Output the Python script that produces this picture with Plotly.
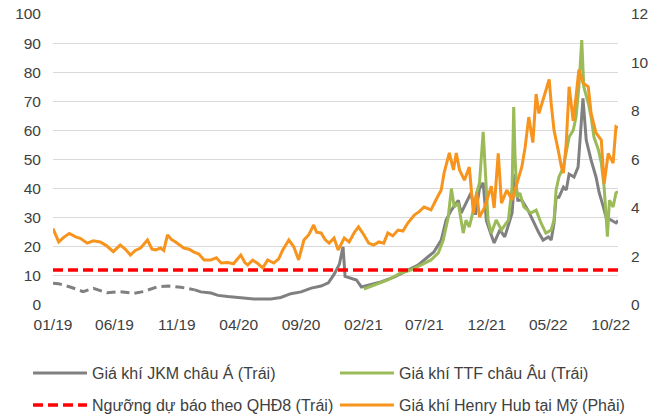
import plotly.graph_objects as go

# ---------------- DATA ----------------
hh_dates = ["2019-01-01","2019-01-08","2019-01-15","2019-01-28","2019-02-10","2019-02-27","2019-03-09","2019-03-26",
 "2019-04-10","2019-04-27","2019-05-12","2019-05-29","2019-06-15","2019-06-28","2019-07-10","2019-07-22","2019-08-04",
 "2019-08-21","2019-09-01","2019-09-10","2019-09-22","2019-09-30","2019-10-09","2019-10-19","2019-10-29","2019-11-18",
 "2019-12-01","2019-12-12","2019-12-25","2020-01-07","2020-01-24","2020-02-06","2020-02-18","2020-03-05","2020-03-19",
 "2020-04-06","2020-04-16","2020-04-23","2020-05-05","2020-05-17","2020-05-30","2020-06-11","2020-06-26","2020-07-08",
 "2020-07-18","2020-08-02","2020-08-14","2020-08-26","2020-09-08","2020-09-20","2020-10-02","2020-10-09","2020-10-20",
 "2020-10-30","2020-11-09","2020-11-21","2020-12-01","2020-12-16","2020-12-28","2021-01-10","2021-01-20","2021-02-02",
 "2021-02-14","2021-02-26","2021-03-11","2021-03-23","2021-04-02","2021-04-14","2021-04-27","2021-05-09","2021-05-21",
 "2021-06-06","2021-06-18","2021-06-30","2021-07-17","2021-07-29","2021-08-11","2021-08-18","2021-08-31","2021-09-10",
 "2021-09-17","2021-09-25","2021-10-07","2021-10-19","2021-10-29","2021-11-06","2021-11-13","2021-11-25","2021-12-12",
 "2021-12-19","2021-12-29","2022-01-06","2022-01-19","2022-02-01","2022-02-13","2022-02-25","2022-03-05","2022-03-14",
 "2022-03-24","2022-04-01","2022-04-08","2022-04-18","2022-04-25","2022-05-03","2022-05-08","2022-05-15","2022-05-25",
 "2022-06-02","2022-06-07","2022-06-14","2022-06-21","2022-07-01","2022-07-08","2022-07-15","2022-07-25","2022-08-07",
 "2022-08-14","2022-08-26","2022-09-08","2022-09-15","2022-09-25","2022-10-07","2022-10-14","2022-10-19"]
hh_values = [3.15,2.9,2.6,2.8,2.95,2.8,2.75,2.55,
 2.65,2.6,2.45,2.2,2.47,2.3,2.06,2.25,2.35,
 2.68,2.3,2.27,2.35,2.25,2.89,2.7,2.6,2.35,
 2.3,2.19,2.1,1.86,1.86,1.95,1.73,1.75,1.7,
 2.06,1.75,1.65,1.85,1.72,1.53,1.86,1.73,1.9,
 2.27,2.68,2.4,1.86,2.68,2.9,3.3,3.0,2.97,
 2.7,2.55,2.76,2.27,2.76,2.6,3.0,3.22,2.9,
 2.55,2.47,2.6,2.55,2.97,2.85,3.09,3.05,3.38,
 3.71,3.85,4.04,3.92,4.33,4.74,5.44,6.27,5.57,
 6.27,5.57,5.15,5.69,3.79,4.62,3.63,4.0,4.9,
 4.0,6.25,4.2,4.74,4.33,5.0,5.7,6.5,7.75,
 6.7,8.7,7.9,8.45,8.87,9.3,8.3,7.2,6.4,
 5.7,5.44,6.7,9.0,7.6,8.6,9.7,9.15,9.0,
 7.9,7.1,6.8,5.0,6.25,5.85,7.35,7.3]

jkm_dates = ["2019-01-01","2019-01-15","2019-02-14","2019-03-16","2019-04-10","2019-04-27","2019-05-14","2019-06-15",
 "2019-07-17","2019-08-11","2019-09-15","2019-10-12","2019-11-11","2019-12-15","2019-12-30","2020-01-24","2020-02-10",
 "2020-03-05","2020-04-06","2020-05-08","2020-06-19","2020-07-13","2020-08-07","2020-09-01","2020-09-26","2020-10-20",
 "2020-11-07","2020-11-21","2020-12-04","2020-12-13","2020-12-18","2020-12-28","2021-01-15","2021-01-27","2021-02-14",
 "2021-03-16","2021-04-17","2021-05-21","2021-06-15","2021-07-09","2021-07-24","2021-08-11","2021-08-23","2021-09-05",
 "2021-09-22","2021-09-29","2021-10-11","2021-10-23","2021-11-03","2021-11-13","2021-11-22","2021-11-30","2021-12-12",
 "2021-12-19","2022-01-02","2022-01-14","2022-02-01","2022-02-08","2022-02-15","2022-02-25","2022-03-12","2022-03-26",
 "2022-04-08","2022-04-18","2022-05-01","2022-05-08","2022-05-15","2022-05-20","2022-05-27","2022-06-07","2022-06-14",
 "2022-06-21","2022-07-03","2022-07-13","2022-07-20","2022-07-25","2022-08-02","2022-08-14","2022-08-26","2022-09-03",
 "2022-09-13","2022-09-20","2022-10-02","2022-10-14","2022-10-19"]
jkm_values = [7.5,7.3,6.1,4.6,5.7,5.0,4.2,4.6,
 4.0,4.6,6.3,6.5,6.1,5.2,4.5,4.1,3.3,
 2.9,2.5,2.1,2.1,2.6,3.9,4.5,5.8,6.5,
 7.6,10.5,14.0,20.0,9.8,9.3,8.6,6.2,6.9,
 7.9,9.6,12.0,13.7,16.5,18.2,22.3,29.2,32.6,
 36.0,31.6,35.0,38.5,31.0,40.0,42.0,29.0,24.0,
 21.3,25.8,23.4,31.6,45.0,36.0,36.0,32.6,28.2,
 24.7,22.3,23.4,22.3,28.2,37.0,37.0,40.5,39.5,
 45.0,44.0,47.4,63.6,71.0,56.7,49.8,44.0,38.5,
 33.7,30.0,29.2,28.2,29.0]
jkm_dashed_until = "2019-12-15"   # early part of the JKM series is drawn dashed

ttf_dates = ["2021-02-02","2021-02-28","2021-04-02","2021-05-04","2021-05-28","2021-06-22","2021-07-17","2021-08-04",
 "2021-08-16","2021-08-28","2021-09-05","2021-09-12","2021-09-22","2021-10-04","2021-10-11","2021-10-19","2021-10-29",
 "2021-11-06","2021-11-13","2021-11-22","2021-11-30","2021-12-04","2021-12-12","2021-12-24","2022-01-06","2022-01-23",
 "2022-02-01","2022-02-05","2022-02-08","2022-02-13","2022-02-20","2022-03-02","2022-03-19","2022-04-01","2022-04-13",
 "2022-04-25","2022-05-08","2022-05-15","2022-05-20","2022-05-27","2022-06-07","2022-06-14","2022-06-21","2022-07-01",
 "2022-07-08","2022-07-15","2022-07-22","2022-07-27","2022-08-07","2022-08-14","2022-08-21","2022-09-01","2022-09-08",
 "2022-09-15","2022-09-23","2022-09-28","2022-10-07","2022-10-14","2022-10-19"]
ttf_values = [5.5,6.9,8.6,11.0,12.0,13.7,15.5,17.9,
 22.3,30.0,40.0,33.7,35.0,24.7,29.2,26.8,32.6,
 38.5,42.0,59.5,40.5,29.2,24.7,29.2,25.8,29.2,
 40.5,68.0,52.0,37.0,38.5,33.7,31.6,32.6,28.2,
 24.7,25.8,29.2,39.5,44.0,47.4,52.0,57.7,60.0,
 64.6,75.0,91.0,75.0,69.4,64.6,57.7,53.3,48.8,
 40.5,23.5,36.0,33.7,38.5,39.0]

qhd8_threshold = 12

x_start, x_end = "2019-01-01", "2022-10-19"
tick_dates = ["2019-01-01","2019-06-01","2019-11-01","2020-04-01","2020-09-01","2021-02-01",
              "2021-07-01","2021-12-01","2022-05-01","2022-10-01"]
tick_labels = ["01/19","06/19","11/19","04/20","09/20","02/21","07/21","12/21","05/22","10/22"]

names = ["Giá khí JKM châu Á (Trái)", "Giá khí TTF châu Âu (Trái)",
         "Ngưỡng dự báo theo QHĐ8 (Trái)", "Giá khí Henry Hub tại Mỹ (Phải)"]

# ---------------- FIGURE ----------------
GRAY, GREEN, RED, ORANGE = "#808080", "#9BBB59", "#FF0000", "#F7941D"
FONT = "Liberation Sans, Arial, sans-serif"
TXT = "#404040"

early = [(d, v) for d, v in zip(jkm_dates, jkm_values) if d <= jkm_dashed_until]
late = [(d, v) for d, v in zip(jkm_dates, jkm_values) if d >= jkm_dashed_until]

fig = go.Figure()
fig.add_trace(go.Scatter(x=[d for d, _ in late], y=[v for _, v in late], mode="lines",
                         name=names[0], legend="legend", line=dict(color=GRAY, width=3)))
fig.add_trace(go.Scatter(x=[d for d, _ in early], y=[v for _, v in early], mode="lines",
                         showlegend=False, line=dict(color=GRAY, width=3, dash="9px,5px")))
fig.add_trace(go.Scatter(x=ttf_dates, y=ttf_values, mode="lines", name=names[1], legend="legend2",
                         line=dict(color=GREEN, width=3)))
fig.add_trace(go.Scatter(x=[x_start, x_end], y=[qhd8_threshold, qhd8_threshold], mode="lines",
                         name=names[2], legend="legend3",
                         line=dict(color=RED, width=3.5, dash="10px,5px")))
fig.add_trace(go.Scatter(x=hh_dates, y=hh_values, mode="lines", name=names[3], yaxis="y2",
                         legend="legend4", line=dict(color=ORANGE, width=3)))

def leg(x, y):
    return dict(orientation="h", x=x, y=y, xanchor="left", yanchor="middle",
                itemwidth=54, font=dict(family=FONT, size=16, color=TXT),
                bgcolor="rgba(0,0,0,0)", borderwidth=0)

col1, col2 = -0.0442, 0.499
row1, row2 = -0.2337, -0.3436

fig.update_layout(
    width=670, height=416,
    margin=dict(l=53, r=52, t=14, b=111, autoexpand=False),
    paper_bgcolor="white", plot_bgcolor="white",
    font=dict(family=FONT, size=15.5, color=TXT),
    xaxis=dict(type="date", range=[x_start, x_end], tickvals=tick_dates, ticktext=tick_labels,
               showgrid=False, zeroline=False, showline=False, ticks="", ticklabelstandoff=8,
               tickfont=dict(size=15.5, color=TXT)),
    yaxis=dict(range=[0, 100], dtick=10, showgrid=True, gridcolor="#D9D9D9", gridwidth=1.2,
               zeroline=False, showline=False, ticks="", ticklabelstandoff=11,
               tickfont=dict(size=15.5, color=TXT)),
    yaxis2=dict(range=[0, 12], dtick=2, overlaying="y", side="right", showgrid=False,
                zeroline=False, showline=False, ticks="", ticklabelstandoff=12,
                tickfont=dict(size=15.5, color=TXT)),
    legend=leg(col1, row1), legend2=leg(col2, row1),
    legend3=leg(col1, row2), legend4=leg(col2, row2),
    showlegend=True,
)

fig.write_html("out.html", config={"displayModeBar": False},
               post_script="document.body.style.margin='0';document.body.style.overflow='hidden';")
